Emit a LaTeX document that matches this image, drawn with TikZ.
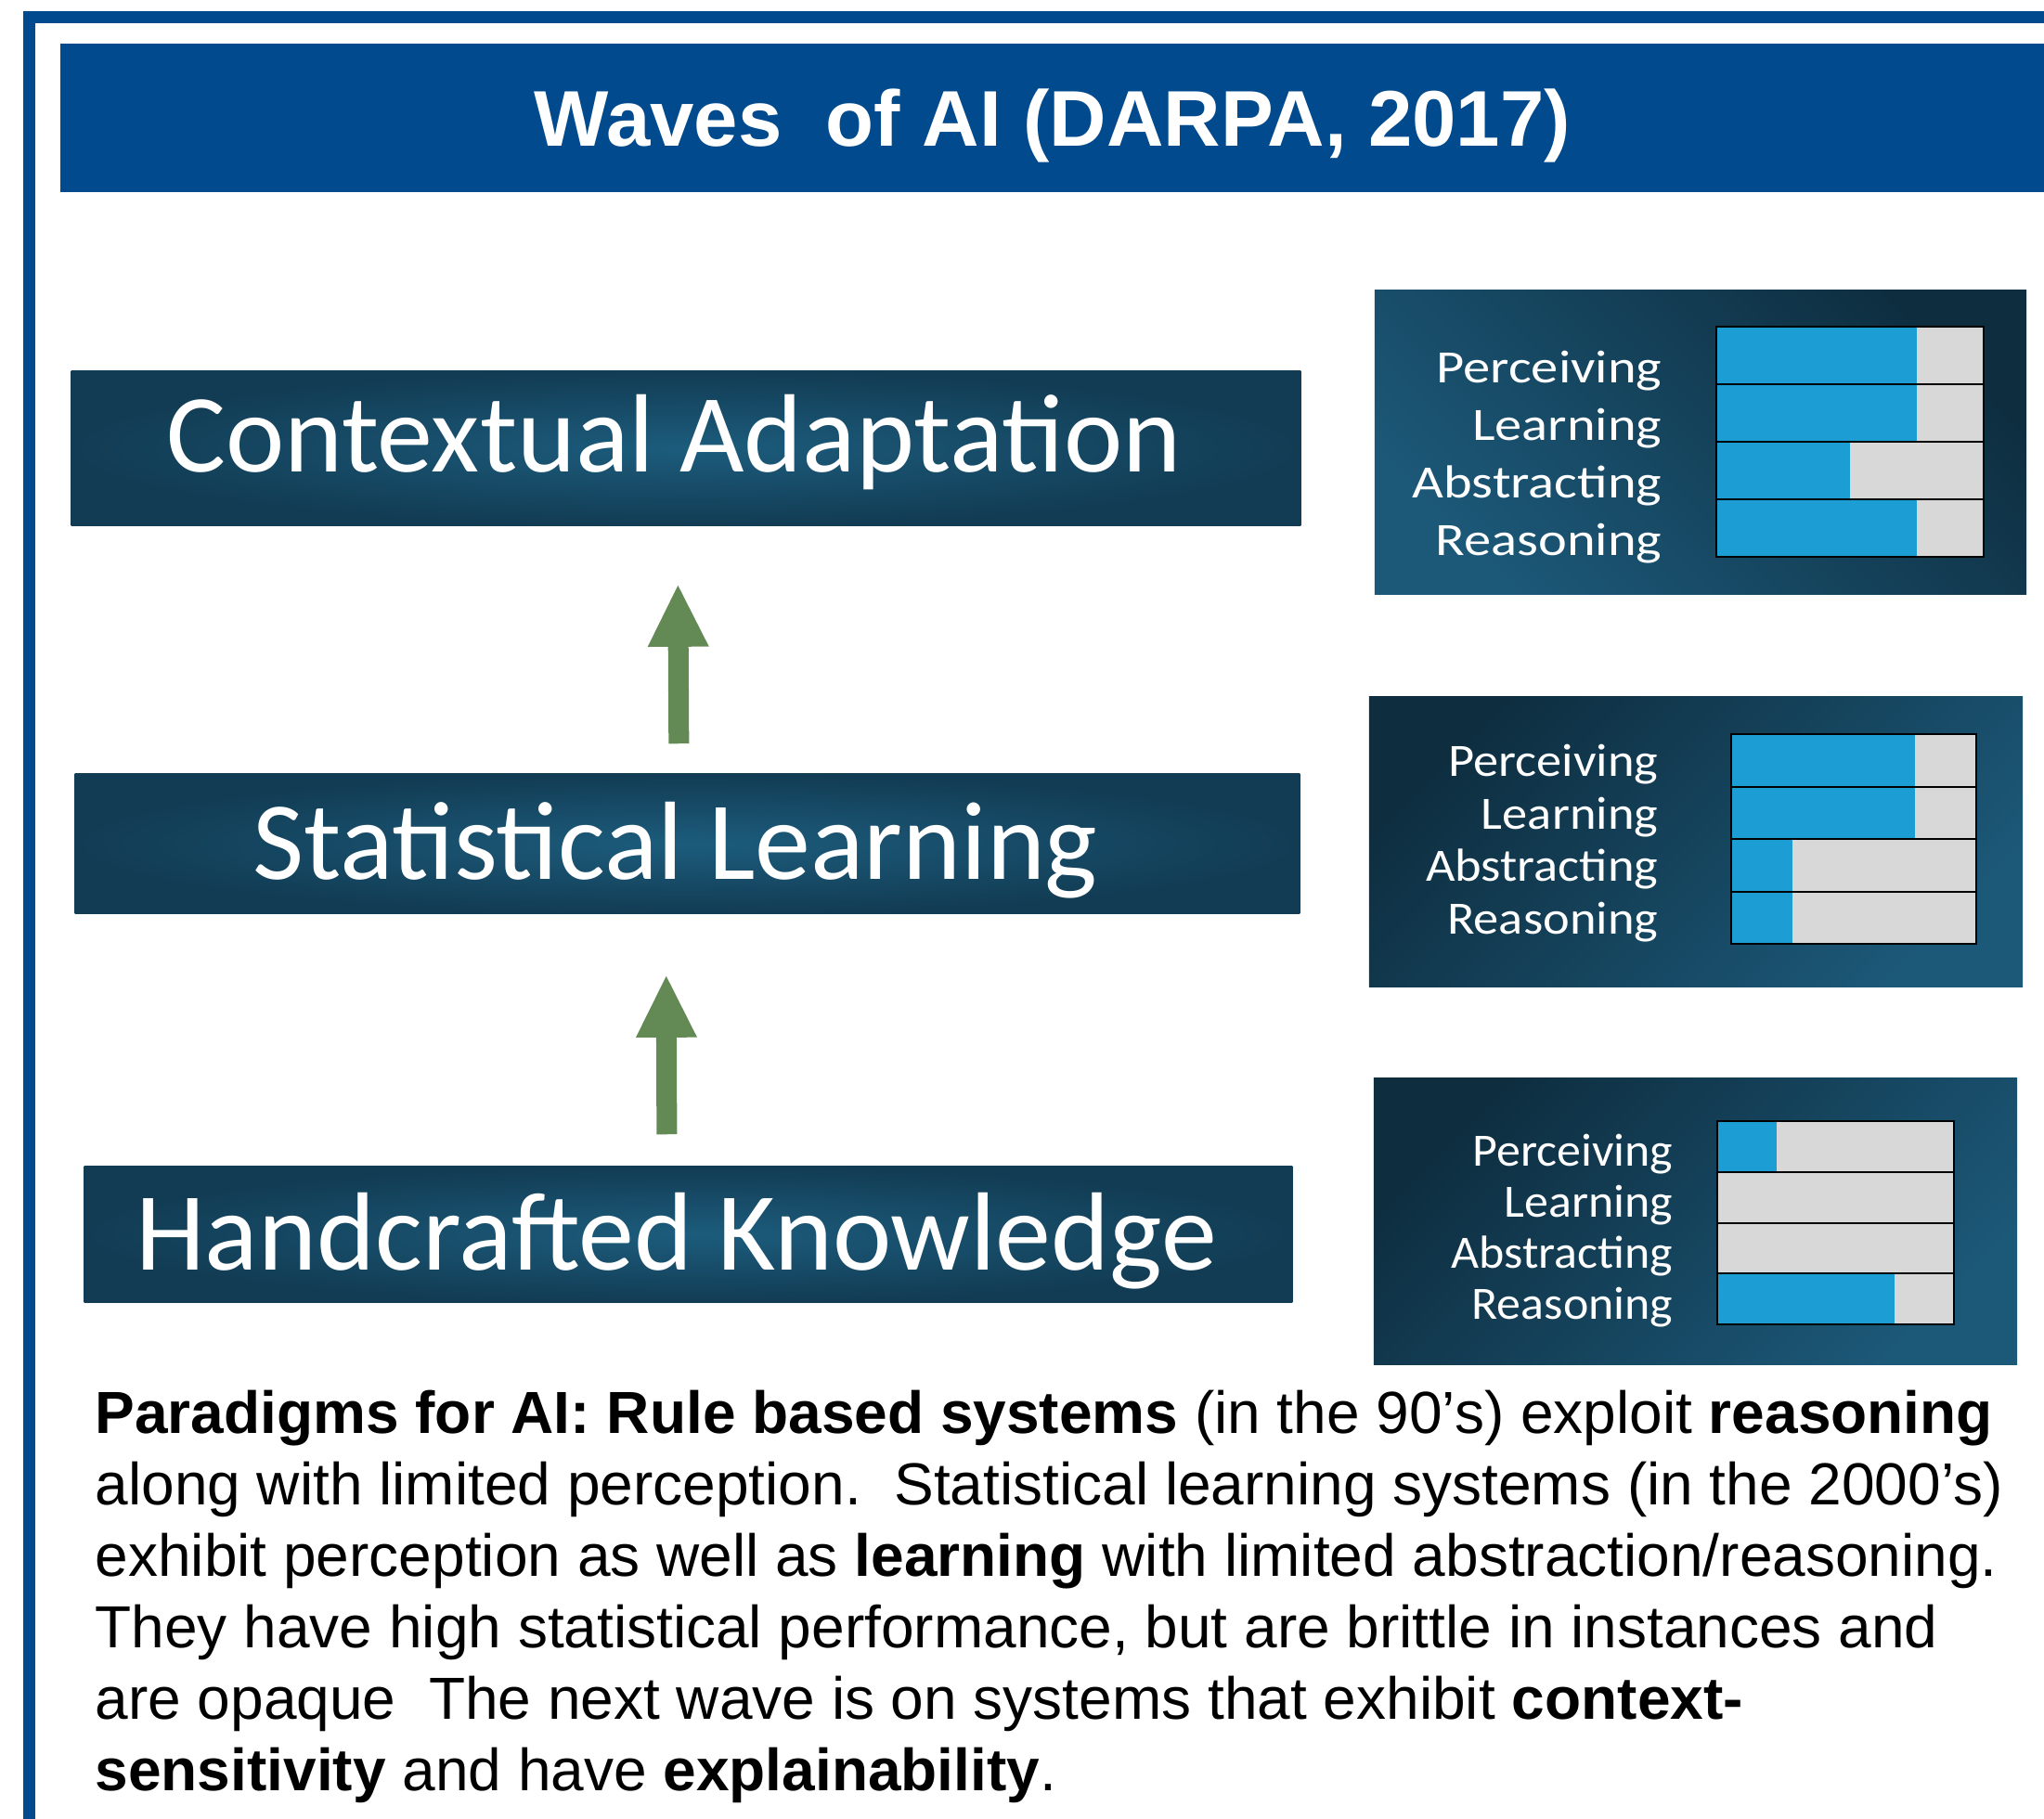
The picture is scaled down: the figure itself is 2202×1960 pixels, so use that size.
\documentclass[tikz,border=0pt]{standalone}
\usepackage{fontspec}
\setmainfont{Liberation Sans}
\newfontfamily\slidefont{Carlito}
\usetikzlibrary{arrows.meta,shadings}

\definecolor{slideblue}{RGB}{0,74,141}
\definecolor{boxD}{RGB}{18,60,84}
\definecolor{boxL}{RGB}{28,92,124}
\definecolor{panelD}{RGB}{14,46,64}
\definecolor{panelL}{RGB}{28,88,120}
\definecolor{barblue}{RGB}{28,157,211}
\definecolor{bargray}{RGB}{216,216,216}
\definecolor{arrowgreen}{RGB}{99,137,85}

\tikzset{
  frame/.style={draw=slideblue, line width=0.13cm},
  titlebar/.style={rectangle, fill=slideblue, inner sep=0pt, text=white,
    minimum width=21.36cm, minimum height=1.6cm,
    font=\bfseries\fontsize{24.2pt}{29pt}\selectfont, text height=0.61cm, text depth=0pt},
  wavebox/.style={rectangle, inner sep=0pt, shading=radial, inner color=boxL, outer color=boxD,
    text=white, font=\slidefont\fontsize{34.1pt}{40pt}\selectfont, text height=0.77cm, text depth=0pt,
    execute at begin node=\hspace*{-0.26cm}},
  panel/.style={rectangle, inner sep=0pt, shading=axis, top color=panelD, bottom color=panelL},
  skill/.style={anchor=base east, inner sep=0pt, text=white, font=\slidefont\fontsize{14.2pt}{17pt}\selectfont},
  barline/.style={draw=black, line width=0.02cm},
  uparrow/.style={draw=arrowgreen, line width=0.22cm,
    -{Triangle[width=0.66cm,length=0.66cm,line width=0pt]}},
  para/.style={anchor=north west, inner sep=0pt, align=left,
    font=\fontsize{18.2pt}{21.9pt}\selectfont}
}

\begin{document}
\begin{tikzpicture}[x=0.01cm,y=-0.01cm]
  \useasboundingbox (0,0) rectangle (2202,1960);
  \draw[frame] (31.5,1960) |- (2202,18.5);
  \node[titlebar] (title) at (1134,127) {Waves\ \ of AI (DARPA, 2017)};

  % the three waves
  \node[wavebox, minimum width=13.24cm, minimum height=1.66cm, text depth=0.26cm] (ctx) at (739,483) {Contextual Adaptation};
  \node[wavebox, minimum width=13.19cm, minimum height=1.50cm] (stat) at (740.5,909) {Statistical Learning};
  \node[wavebox, minimum width=13.01cm, minimum height=1.46cm] (hand) at (741.5,1330) {Handcrafted Knowledge};

  \draw[uparrow, shorten <=0.32cm, shorten >=0.64cm] ([xshift=-0.09cm]stat.north) -- ([xshift=-0.09cm]ctx.south);
  \draw[uparrow, shorten <=0.34cm, shorten >=0.67cm] ([xshift=-0.23cm]hand.north) -- ([xshift=-0.23cm]stat.south);

  % score panels
  \node[panel, minimum width=7.02cm, minimum height=3.27cm, shading angle=-45] (pctx) at (1832,476.5) {};
  \node[panel, minimum width=7.04cm, minimum height=3.12cm, shading angle=45] (pstat) at (1827,907) {};
  \node[panel, minimum width=6.93cm, minimum height=3.08cm, shading angle=45] (phand) at (1826.5,1316) {};

  % bars: left, right, top, row height, label edge, label raise, label stretch, fill per row
  \foreach \bx/\ex/\ty/\rh/\lx/\lr/\sx/\fa/\fb/\fc/\fd [count=\p] in {
      1849/2137/352/62/1791/2/1.17/.75/.75/.5/.75,
      1865/2129/791/56.5/1787/11/1.09/.75/.75/.25/.25,
      1850/2105/1208/54.75/1803/6/1.04/.25/0/0/.75}
    \foreach \lab/\f [count=\i] in {Perceiving/\fa,Learning/\fb,Abstracting/\fc,Reasoning/\fd} {
      \pgfmathsetmacro\yt{\ty+(\i-1)*\rh}
      \pgfmathsetmacro\yb{\yt+\rh}
      \pgfmathsetmacro\xf{\bx+\f*(\ex-\bx)}
      \fill[bargray] (\bx,\yt) rectangle (\ex,\yb);
      \fill[barblue] (\bx,\yt) rectangle (\xf,\yb);
      \draw[barline] (\bx,\yt) rectangle (\ex,\yb);
      \node[skill] (lab\p\i) at (\lx,\yb-\lr) {\scalebox{\sx}[1]{\lab}};
    }

  \node[para] (note) at (102,1497) {\textbf{Paradigms for AI: Rule based systems} (in the 90’s) exploit \textbf{reasoning}\\
    along with limited perception.\ \ Statistical learning systems (in the 2000’s)\\
    exhibit perception as well as \textbf{learning} with limited abstraction/reasoning.\\
    They have high statistical performance, but are brittle in instances and\\
    are opaque\ \ The next wave is on systems that exhibit \textbf{context-}\\
    \textbf{sensitivity} and have \textbf{explainability}.};
\end{tikzpicture}
\end{document}
